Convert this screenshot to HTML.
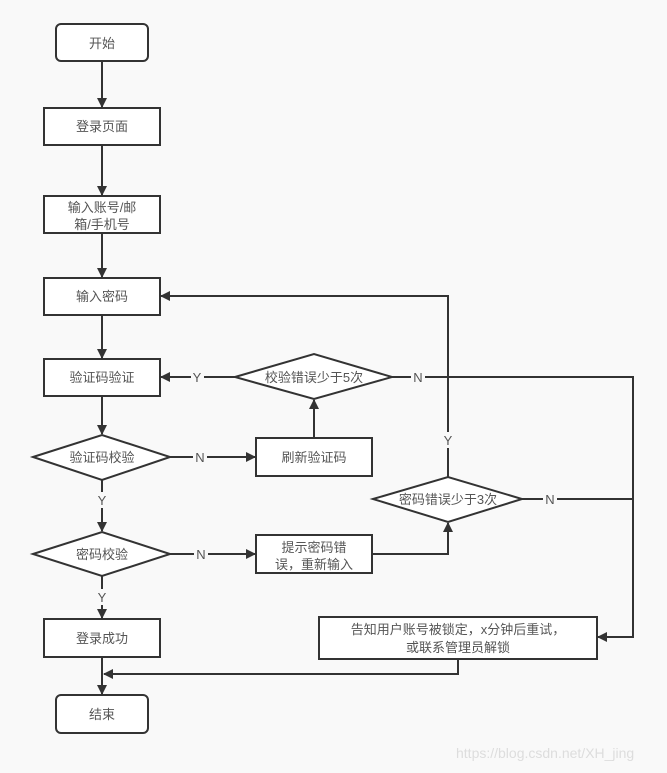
<!DOCTYPE html>
<html><head><meta charset="utf-8"><style>
html,body{margin:0;padding:0;background:#f9f9f9;}
svg{display:block;}
text{font-family:"Liberation Sans","Noto Sans CJK SC",sans-serif;font-size:13px;fill:#555;}
</style></head><body>
<svg width="667" height="773" viewBox="0 0 667 773" xmlns="http://www.w3.org/2000/svg">
<defs><marker id="a" markerWidth="10" markerHeight="10" refX="9" refY="5" orient="auto" markerUnits="userSpaceOnUse"><path d="M0,0 L10,5 L0,10 z" fill="#333"/></marker></defs>
<g stroke="#333" stroke-width="2" fill="#fff">
<rect x="56" y="24" width="92" height="37" rx="5"/>
<rect x="44" y="108" width="116" height="37"/>
<rect x="44" y="196" width="116" height="37"/>
<rect x="44" y="278" width="116" height="37"/>
<rect x="44" y="359" width="116" height="37"/>
<polygon points="33,457 102,435 170,457 102,480"/>
<polygon points="33,554 102,532 170,554 102,576"/>
<rect x="44" y="619" width="116" height="38"/>
<rect x="56" y="695" width="92" height="38" rx="5"/>
<rect x="256" y="438" width="116" height="38"/>
<polygon points="235,377 314,354 392,377 314,399"/>
<rect x="256" y="535" width="116" height="38"/>
<polygon points="373,499 448,477 522,499 448,522"/>
<rect x="319" y="617" width="278" height="42"/>
</g>
<g stroke="#333" stroke-width="2" fill="none" marker-end="url(#a)">
<line x1="102" y1="61" x2="102" y2="107"/>
<line x1="102" y1="145" x2="102" y2="195"/>
<line x1="102" y1="233" x2="102" y2="277"/>
<line x1="102" y1="315" x2="102" y2="358"/>
<line x1="102" y1="396" x2="102" y2="434"/>
<line x1="102" y1="480" x2="102" y2="531"/>
<line x1="102" y1="576" x2="102" y2="618"/>
<line x1="102" y1="657" x2="102" y2="694"/>
<line x1="170" y1="457" x2="255" y2="457"/>
<line x1="170" y1="554" x2="255" y2="554"/>
<line x1="314" y1="438" x2="314" y2="400"/>
<line x1="235" y1="377" x2="161" y2="377"/>
<polyline points="372,554 448,554 448,523"/>
<polyline points="448,477 448,296 161,296"/>
<polyline points="392,377 633,377 633,637 598,637"/>
<polyline points="458,659 458,674 104,674"/>
</g>
<line x1="522" y1="499" x2="633" y2="499" stroke="#333" stroke-width="2"/>
<g text-anchor="middle">
<text x="102" y="48">开始</text>
<text x="102" y="131">登录页面</text>
<text x="102" y="212">输入账号/邮</text>
<text x="102" y="229">箱/手机号</text>
<text x="102" y="301">输入密码</text>
<text x="102" y="382">验证码验证</text>
<text x="102" y="462">验证码校验</text>
<text x="102" y="559">密码校验</text>
<text x="102" y="643">登录成功</text>
<text x="102" y="719">结束</text>
<text x="314" y="462">刷新验证码</text>
<text x="314" y="382">校验错误少于5次</text>
<text x="314" y="552">提示密码错</text>
<text x="314" y="569">误，重新输入</text>
<text x="448" y="504">密码错误少于3次</text>
<text x="458" y="634">告知用户账号被锁定，x分钟后重试，</text>
<text x="458" y="652">或联系管理员解锁</text>
</g>
<g text-anchor="middle" style="font-size:13px">
<rect x="191" y="369" width="13" height="16" fill="#f9f9f9"/><text x="197" y="382">Y</text>
<rect x="193" y="450" width="14" height="16" fill="#f9f9f9"/><text x="200" y="462">N</text>
<rect x="95" y="492" width="14" height="16" fill="#f9f9f9"/><text x="102" y="505">Y</text>
<rect x="194" y="546" width="14" height="16" fill="#f9f9f9"/><text x="201" y="559">N</text>
<rect x="95" y="589" width="14" height="16" fill="#f9f9f9"/><text x="102" y="602">Y</text>
<rect x="411" y="369" width="14" height="16" fill="#f9f9f9"/><text x="418" y="382">N</text>
<rect x="441" y="432" width="14" height="16" fill="#f9f9f9"/><text x="448" y="445">Y</text>
<rect x="543" y="491" width="14" height="16" fill="#f9f9f9"/><text x="550" y="504">N</text>
</g>
<text x="456" y="758" style="font-size:14px;fill:#ddd">https://blog.csdn.net/XH_jing</text>
</svg>
</body></html>
